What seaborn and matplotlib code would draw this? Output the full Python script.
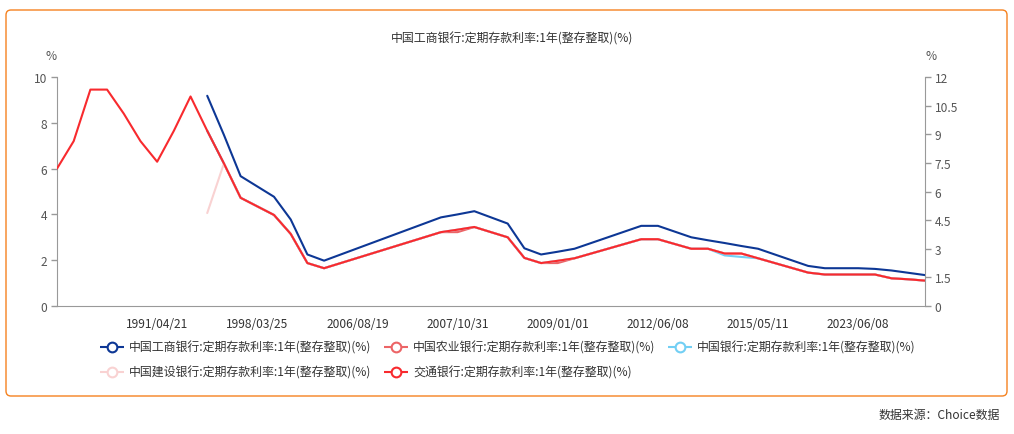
import matplotlib
matplotlib.use("Agg")
import matplotlib.pyplot as plt
from matplotlib.patches import FancyBboxPatch
import seaborn as sns
import pandas as pd
import numpy as np

# category axis: rate change dates
dates = ["1985/08/01", "1988/09/01", "1989/02/01", "1990/01/01", "1990/04/15", "1990/08/21",
         "1991/04/21", "1993/05/15", "1993/07/11", "1996/05/01", "1996/08/23", "1997/10/23",
         "1998/03/25", "1998/07/01", "1998/12/07", "1999/06/10", "2002/02/21", "2004/10/29",
         "2006/08/19", "2007/03/18", "2007/05/19", "2007/07/21", "2007/08/22", "2007/09/15",
         "2007/10/31", "2007/12/21", "2008/10/09", "2008/10/30", "2008/11/27", "2008/12/23",
         "2009/01/01", "2010/10/20", "2010/12/26", "2011/02/09", "2011/04/06", "2011/07/07",
         "2012/06/08", "2012/07/06", "2014/11/22", "2014/11/24", "2015/03/01", "2015/03/02",
         "2015/05/11", "2015/06/28", "2015/08/26", "2015/10/24", "2022/04/25", "2022/09/15",
         "2023/06/08", "2023/09/01", "2023/12/22", "2024/07/25", "2024/10/18"]

na = None
icbc = [na] * 9 + [9.18, 7.47, 5.67, 5.22, 4.77, 3.78, 2.25, 1.98, 2.25, 2.52, 2.79, 3.06,
                   3.33, 3.60, 3.87, 4.00, 4.14, 3.87, 3.60, 2.52, 2.25, 2.37, 2.50, 2.75,
                   3.00, 3.25, 3.50, 3.50, 3.25, 3.00, 2.87, 2.75, 2.62, 2.50, 2.25, 2.00,
                   1.75, 1.65, 1.65, 1.65, 1.62, 1.55, 1.45, 1.35]
abc = [na] * 9 + [9.18, 7.47, 5.67, 5.22, 4.77, 3.78, 2.25, 1.98, 2.25, 2.52, 2.79, 3.06,
                  3.33, 3.60, 3.87, 3.87, 4.14, 3.87, 3.60, 2.52, 2.25, 2.25, 2.50, 2.75,
                  3.00, 3.25, 3.50, 3.50, 3.25, 3.00, 3.00, 2.75, 2.75, 2.50, 2.25, 2.00,
                  1.75, 1.65, 1.65, 1.65, 1.65, 1.45, 1.40, 1.33]
boc = [na] * 9 + [9.18, 7.47, 5.67, 5.22, 4.77, 3.78, 2.25, 1.98, 2.25, 2.52, 2.79, 3.06,
                  3.33, 3.60, 3.87, 4.00, 4.14, 3.87, 3.60, 2.52, 2.25, 2.37, 2.50, 2.75,
                  3.00, 3.25, 3.50, 3.50, 3.25, 3.00, 3.00, 2.65, 2.57, 2.50, 2.25, 2.00,
                  1.75, 1.65, 1.65, 1.65, 1.65, 1.45, 1.40, 1.33]
ccb = [na] * 9 + [4.87, 7.47, 5.67, 5.22, 4.77, 3.78, 2.25, 1.98, 2.25, 2.52, 2.79, 3.06,
                  3.33, 3.60, 3.87, 4.00, 4.14, 3.87, 3.60, 2.52, 2.25, 2.37, 2.50, 2.75,
                  3.00, 3.25, 3.50, 3.50, 3.25, 3.00, 3.00, 2.75, 2.75, 2.50, 2.25, 2.00,
                  1.75, 1.65, 1.65, 1.65, 1.65, 1.45, 1.40, 1.33]
bocom = [7.20, 8.64, 11.34, 11.34, 10.08, 8.64, 7.56, 9.18, 10.98, 9.18, 7.47, 5.67, 5.22,
         4.77, 3.78, 2.25, 1.98, 2.25, 2.52, 2.79, 3.06, 3.33, 3.60, 3.87, 4.00, 4.14, 3.87,
         3.60, 2.52, 2.25, 2.37, 2.50, 2.75, 3.00, 3.25, 3.50, 3.50, 3.25, 3.00, 3.00, 2.75,
         2.75, 2.50, 2.25, 2.00, 1.75, 1.65, 1.65, 1.65, 1.65, 1.45, 1.40, 1.33]

names = ["中国工商银行:定期存款利率:1年(整存整取)(%)",
         "中国农业银行:定期存款利率:1年(整存整取)(%)",
         "中国银行:定期存款利率:1年(整存整取)(%)",
         "中国建设银行:定期存款利率:1年(整存整取)(%)",
         "交通银行:定期存款利率:1年(整存整取)(%)"]
colors = ["#0d3795", "#ec6466", "#72cff4", "#f9d2d2", "#f82a2e"]

df = pd.DataFrame({"date": dates, "pos": np.arange(len(dates)),
                   "icbc": pd.array(icbc, dtype="Float64"),
                   "abc": pd.array(abc, dtype="Float64"),
                   "boc": pd.array(boc, dtype="Float64"),
                   "ccb": pd.array(ccb, dtype="Float64"),
                   "bocom": bocom}).astype({"icbc": float, "abc": float, "boc": float, "ccb": float})

sns.set_style("white")
plt.rcParams["font.family"] = ["Noto Sans CJK SC", "DejaVu Sans"]
FS = 8.6
GRAY = "#999999"

fig = plt.figure(figsize=(10.14, 4.35), dpi=100)
ax = fig.add_axes([57 / 1014, 1 - 307 / 435, (925 - 57) / 1014, (307 - 78) / 435])
ax2 = ax.twinx()

lw = 1.5
sns.lineplot(data=df, x="pos", y="icbc", ax=ax, color=colors[0], linewidth=lw, legend=False)
sns.lineplot(data=df, x="pos", y="abc", ax=ax2, color=colors[1], linewidth=lw, legend=False)
sns.lineplot(data=df, x="pos", y="boc", ax=ax2, color=colors[2], linewidth=lw, legend=False)
sns.lineplot(data=df, x="pos", y="ccb", ax=ax2, color=colors[3], linewidth=lw, legend=False)
sns.lineplot(data=df, x="pos", y="bocom", ax=ax2, color=colors[4], linewidth=lw, legend=False)

ax.set_xlim(0, len(dates) - 1)
ax.set_ylim(0, 10)
ax2.set_ylim(0, 12)
ticks = list(range(0, len(dates), 6))
ax.set_xticks(ticks)
ax.set_xticklabels(["" if i == 0 else dates[i] for i in ticks])
ax.set_yticks(range(0, 11, 2))
rt = [0, 1.5, 3, 4.5, 6, 7.5, 9, 10.5, 12]
ax2.set_yticks(rt)
ax2.set_yticklabels([f"{v:g}" for v in rt])
for a in (ax, ax2):
    a.set_xlabel("")
    a.set_ylabel("")
    a.tick_params(direction="out", length=4, width=1, color=GRAY, labelsize=FS,
                  labelcolor="#555555", pad=3)
ax.tick_params(axis="x", labelcolor="#333333", pad=4)
for s in ("top", "right"):
    ax.spines[s].set_visible(False)
for s in ("left", "bottom"):
    ax.spines[s].set_color(GRAY)
for s in ("top", "left", "bottom"):
    ax2.spines[s].set_visible(False)
ax2.spines["right"].set_color(GRAY)

# decorations in pixel coordinates
ov = fig.add_axes([0, 0, 1, 1], zorder=10)
ov.set_xlim(0, 1014)
ov.set_ylim(435, 0)
ov.axis("off")
ov.patch.set_alpha(0)
ov.add_patch(FancyBboxPatch((6, 11), 1001, 386, boxstyle="round,pad=0,rounding_size=5",
                            ec="#f58220", fc="none", lw=1))
ov.text(512, 39, names[0], ha="center", va="center", fontsize=FS, color="#333333")
ov.text(51, 57, "%", ha="center", va="center", fontsize=FS, color="#555555")
ov.text(931, 57, "%", ha="center", va="center", fontsize=FS, color="#555555")
ov.text(1000, 416, "数据来源：Choice数据", ha="right", va="center", fontsize=FS, color="#333333")

leg_pos = [(100, 348), (384, 348), (668, 348), (100, 373), (384, 373)]
for (lx, ly), name, c in zip(leg_pos, names, colors):
    ov.plot([lx, lx + 24], [ly, ly], color=c, lw=1.5, solid_capstyle="butt")
    ov.plot([lx + 12], [ly], marker="o", ms=7, mfc="white", mec=c, mew=1.5)
    ov.text(lx + 29, ly, name, ha="left", va="center", fontsize=FS, color="#333333")

fig.savefig("out.png", dpi=100)
